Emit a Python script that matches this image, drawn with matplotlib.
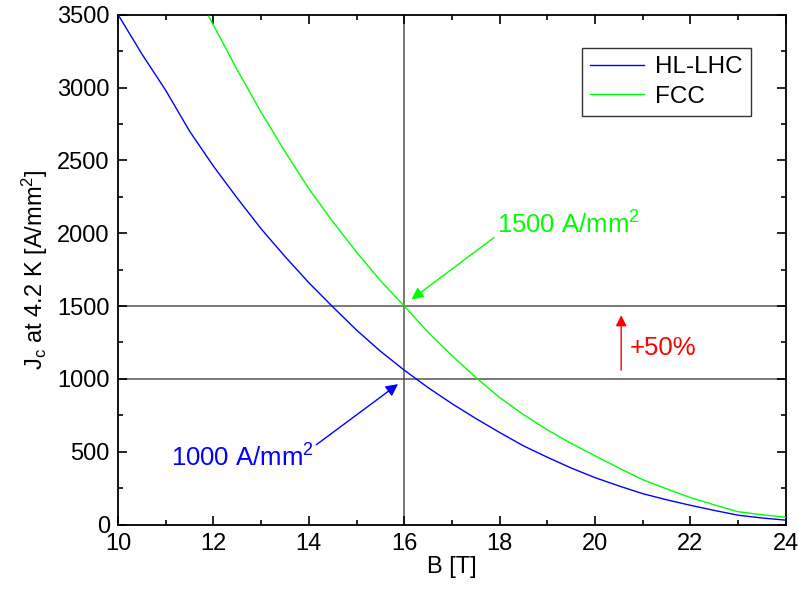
import numpy as np
import matplotlib
matplotlib.use("Agg")
import matplotlib.pyplot as plt
from matplotlib.ticker import MultipleLocator

plt.rcParams['font.family'] = ['Liberation Sans', 'DejaVu Sans']
plt.rcParams['mathtext.default'] = 'regular'

# Jc(B) at 4.2 K
b_hllhc = [10, 10.5, 11, 11.5, 12, 12.5, 13, 13.5, 14, 14.5, 15, 15.5, 16, 16.5,
           17, 17.5, 18, 18.5, 19, 19.5, 20, 20.5, 21, 21.5, 22, 22.5, 23, 23.5, 24]
jc_hllhc = [3500, 3230, 2980, 2700, 2460, 2240, 2030, 1840, 1660, 1495, 1335, 1190,
            1060, 940, 830, 728, 632, 540, 462, 388, 322, 265, 212, 170, 132, 97,
            64, 45, 30]

b_fcc = [11.9, 12.5, 13, 13.5, 14, 14.5, 15, 15.5, 16, 16.5, 17, 17.5, 18, 18.5,
         19, 19.5, 20, 20.5, 21, 21.5, 22, 22.5, 23, 23.5, 24]
jc_fcc = [3490, 3120, 2830, 2560, 2305, 2080, 1870, 1675, 1500, 1320, 1160, 1010,
          872, 755, 650, 557, 472, 388, 308, 245, 185, 135, 88, 67, 50]

ref_b = 16
ref_jc = [1000, 1500]

fig = plt.figure(figsize=(7.98, 5.90), dpi=100)
ax = fig.add_axes([0.148, 0.111, 0.8366, 0.864])

ax.axvline(ref_b, color='#555555', lw=1.1, zorder=1)
for j in ref_jc:
    ax.axhline(j, color='#555555', lw=1.1, zorder=1)

ax.plot(b_hllhc, jc_hllhc, color='#0000ff', lw=1.0, label='HL-LHC', zorder=3)
ax.plot(b_fcc, jc_fcc, color='#00ff00', lw=1.0, label='FCC', zorder=3)

ax.set_xlim(10, 24)
ax.set_ylim(0, 3500)
ax.xaxis.set_major_locator(MultipleLocator(2))
ax.xaxis.set_minor_locator(MultipleLocator(1))
ax.yaxis.set_major_locator(MultipleLocator(500))
ax.yaxis.set_minor_locator(MultipleLocator(250))
ax.tick_params(which='both', direction='in', top=True, right=True,
               width=1.2, labelsize=17)
ax.tick_params(which='major', length=6.5, pad=6)
ax.tick_params(which='minor', length=3.8)
for s in ax.spines.values():
    s.set_linewidth(1.3)

ax.set_xlabel('B [T]', fontsize=17, labelpad=1)
ax.set_ylabel('J$_c$ at 4.2 K [A/mm$^2$]', fontsize=17, labelpad=5)

# annotations
ax.annotate('1000 A/mm$^2$', xy=(15.87, 964), xytext=(11.1, 400),
            color='#0000ff', fontsize=18.5, ha='left', va='baseline',
            arrowprops=dict(arrowstyle='-|>', color='#0000ff', lw=1.0,
                            mutation_scale=18, shrinkA=0, shrinkB=0,
                            relpos=(1.0, 0.9)))
ax.annotate('1500 A/mm$^2$', xy=(16.15, 1545), xytext=(17.94, 2000),
            color='#00ff00', fontsize=18.5, ha='left', va='baseline',
            arrowprops=dict(arrowstyle='-|>', color='#00ff00', lw=1.0,
                            mutation_scale=18, shrinkA=0, shrinkB=0,
                            relpos=(0.0, 0.1)))
ax.annotate('', xy=(20.55, 1437), xytext=(20.55, 1060),
            arrowprops=dict(arrowstyle='-|>', color='#ff0000', lw=1.0,
                            mutation_scale=16, shrinkA=0, shrinkB=0))
ax.text(20.73, 1163, '+50%', color='#ff0000', fontsize=18.5, va='baseline')

leg = ax.legend(loc='upper right', bbox_to_anchor=(0.948, 0.935),
                fontsize=17.5, frameon=True, fancybox=False,
                edgecolor='black', handlelength=2.2, borderpad=0.35,
                labelspacing=0.3, handletextpad=0.45, borderaxespad=0)
leg.get_frame().set_linewidth(1.0)

fig.savefig('out.png', dpi=100)
